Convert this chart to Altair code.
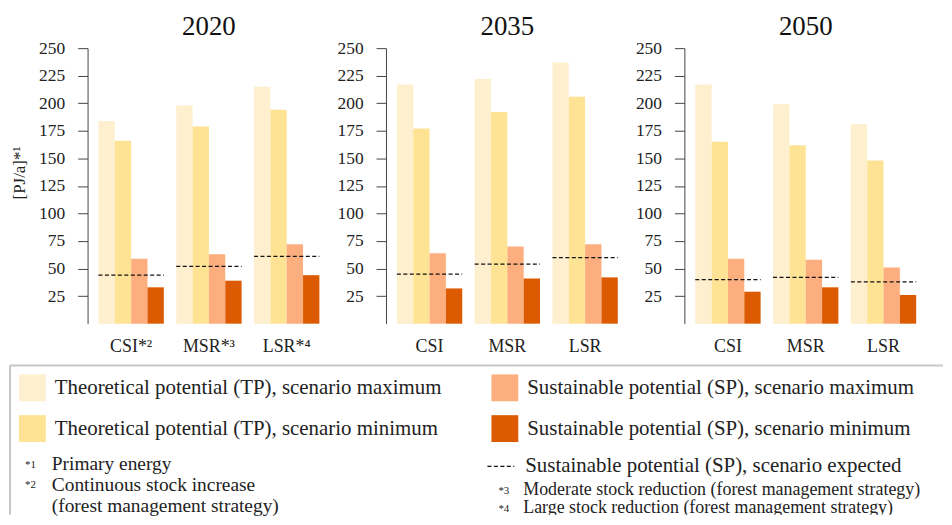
import altair as alt
import pandas as pd

FONT = "Liberation Serif"

years = ["2020", "2035", "2050"]
strategies = ["CSI", "MSR", "LSR"]
strategy_labels_2020 = ["CSI*²", "MSR*³", "LSR*⁴"]

series = [
    "Theoretical potential (TP), scenario maximum",
    "Theoretical potential (TP), scenario minimum",
    "Sustainable potential (SP), scenario maximum",
    "Sustainable potential (SP), scenario minimum",
]
series_colors = ["#FEEFCE", "#FEE394", "#FDAE7E", "#DC5B02"]
expected_label = "Sustainable potential (SP), scenario expected"

tp_max = {"2020": [184, 198, 215], "2035": [217, 222, 237], "2050": [217, 199, 181]}
tp_min = {"2020": [166, 179, 194], "2035": [177, 192, 206], "2050": [165, 162, 148]}
sp_max = {"2020": [59, 63, 72], "2035": [64, 70, 72], "2050": [59, 58, 51]}
sp_min = {"2020": [33, 39, 44], "2035": [32, 41, 42], "2050": [29, 33, 26]}
sp_expected = {"2020": [44, 52, 61], "2035": [45, 54, 60], "2050": [40, 42, 38]}

y_ticks = [25, 50, 75, 100, 125, 150, 175, 200, 225, 250]
y_title = "[PJ/a]*¹"

foot_left_marks = ["*1", "*2"]
foot_left_text = ["Primary energy", "Continuous stock increase", "(forest management strategy)"]
foot_right_marks = ["*3", "*4"]
foot_right_text = ["Moderate stock reduction (forest management strategy)",
                   "Large stock reduction (forest management strategy)"]


def panel(year, first):
    rows = []
    for i, s in enumerate(strategies):
        for ser, vals in zip(series, [tp_max[year], tp_min[year], sp_max[year], sp_min[year]]):
            rows.append({"strategy": s, "series": ser, "value": vals[i]})
    bars_df = pd.DataFrame(rows)
    exp_df = pd.DataFrame({"strategy": strategies, "value": sp_expected[year],
                           "kind": [expected_label] * len(strategies)})

    if first:
        expr = " : ".join(
            f"datum.value == '{s}' ? '{l}'" for s, l in zip(strategies, strategy_labels_2020)
        ) + " : datum.label"
    else:
        expr = "datum.label"

    xscale = alt.Scale(domain=strategies, paddingInner=0.16, paddingOuter=0.14)
    xaxis = alt.Axis(title=None, domain=False, ticks=False, labelAngle=0, labelFont=FONT,
                     labelFontSize=18, labelColor="#222", labelPadding=14, labelExpr=expr)
    yscale = alt.Scale(domain=[0, 250], nice=False, zero=True)
    yaxis_kw = dict(values=y_ticks, grid=False, domainColor="#444", tickColor="#444",
                    tickSize=10, labelFont=FONT, labelFontSize=17.5, labelColor="#222",
                    labelPadding=13)
    if first:
        yaxis = alt.Axis(title=y_title, titleFont=FONT, titleFontSize=17,
                         titleFontWeight="normal", titleColor="#222", titlePadding=10,
                         titleY=125, **yaxis_kw)
    else:
        yaxis = alt.Axis(title=None, **yaxis_kw)

    bars = alt.Chart(bars_df).mark_bar().encode(
        x=alt.X("strategy:N", scale=xscale, axis=xaxis, sort=strategies),
        xOffset=alt.XOffset("series:N", sort=series,
                            scale=alt.Scale(domain=series, paddingInner=0, paddingOuter=0)),
        y=alt.Y("value:Q", scale=yscale, axis=yaxis),
        color=alt.Color("series:N",
                        scale=alt.Scale(domain=series, range=series_colors),
                        legend=alt.Legend(title=None, orient="none", legendX=-69, legendY=328,
                                          columns=2, columnPadding=50, rowPadding=14,
                                          symbolType="square", symbolSize=729,
                                          symbolStrokeWidth=0, symbolOpacity=1,
                                          labelFont=FONT, labelFontSize=21,
                                          labelColor="#222", labelOffset=9,
                                          labelLimit=800, padding=0)),
    )
    rules = alt.Chart(exp_df).mark_rule(color="#111", strokeWidth=1.2).encode(
        x=alt.X("strategy:N", scale=xscale, axis=xaxis, sort=strategies, bandPosition=0),
        x2=alt.X2("strategy:N", bandPosition=1),
        y=alt.Y("value:Q", scale=yscale, axis=yaxis),
        strokeDash=alt.StrokeDash("kind:N",
                                  scale=alt.Scale(domain=[expected_label], range=[[4, 2.5]]),
                                  legend=alt.Legend(title=None, orient="none", legendX=401,
                                                    legendY=406, symbolType="stroke",
                                                    symbolSize=729, symbolStrokeColor="#111",
                                                    symbolStrokeWidth=1.2, labelFont=FONT,
                                                    labelFontSize=21, labelColor="#222",
                                                    labelOffset=10, labelLimit=800,
                                                    padding=0)),
    )
    return alt.layer(bars, rules).properties(
        width=244, height=277,
        title=alt.TitleParams(year, font=FONT, fontSize=27, fontWeight="normal",
                              color="#111", offset=-2),
    )


top = alt.hconcat(*[panel(y, i == 0) for i, y in enumerate(years)], spacing=6)

one = pd.DataFrame({"k": [0]})
BL, BW, BH = -78, 860, 150
border_top = alt.Chart(one).mark_rule(color="#c8c8c8", strokeWidth=2).encode(
    x=alt.value(BL), x2=alt.value(BW), y=alt.value(0))
border_left = alt.Chart(one).mark_rule(color="#c8c8c8", strokeWidth=2).encode(
    x=alt.value(BL), y=alt.value(0), y2=alt.value(BH))
fl_marks = alt.Chart(one).mark_text(align="left", baseline="alphabetic", font=FONT,
                                    fontSize=11, color="#222", lineHeight=20).encode(
    x=alt.value(-63), y=alt.value(103), text=alt.value(foot_left_marks))
fl_text = alt.Chart(one).mark_text(align="left", baseline="alphabetic", font=FONT,
                                   fontSize=19.5, color="#222", lineHeight=21.3).encode(
    x=alt.value(-36), y=alt.value(105), text=alt.value(foot_left_text))
fr_marks = alt.Chart(one).mark_text(align="left", baseline="alphabetic", font=FONT,
                                    fontSize=11, color="#222", lineHeight=18).encode(
    x=alt.value(413), y=alt.value(129), text=alt.value(foot_right_marks))
fr_text = alt.Chart(one).mark_text(align="left", baseline="alphabetic", font=FONT,
                                   fontSize=18, color="#222", lineHeight=18.5,
                                   clip=True).encode(
    x=alt.value(438), y=alt.value(130), text=alt.value(foot_right_text))

bottom = alt.layer(border_top, border_left, fl_marks, fl_text, fr_marks, fr_text).properties(
    width=BW, height=BH)

chart = alt.vconcat(top, bottom, spacing=9).properties(
    padding={"left": 1, "top": 4, "right": 0, "bottom": 0}
).configure_view(stroke=None)

chart.save("out.html", embed_options={"renderer": "svg", "actions": False})
